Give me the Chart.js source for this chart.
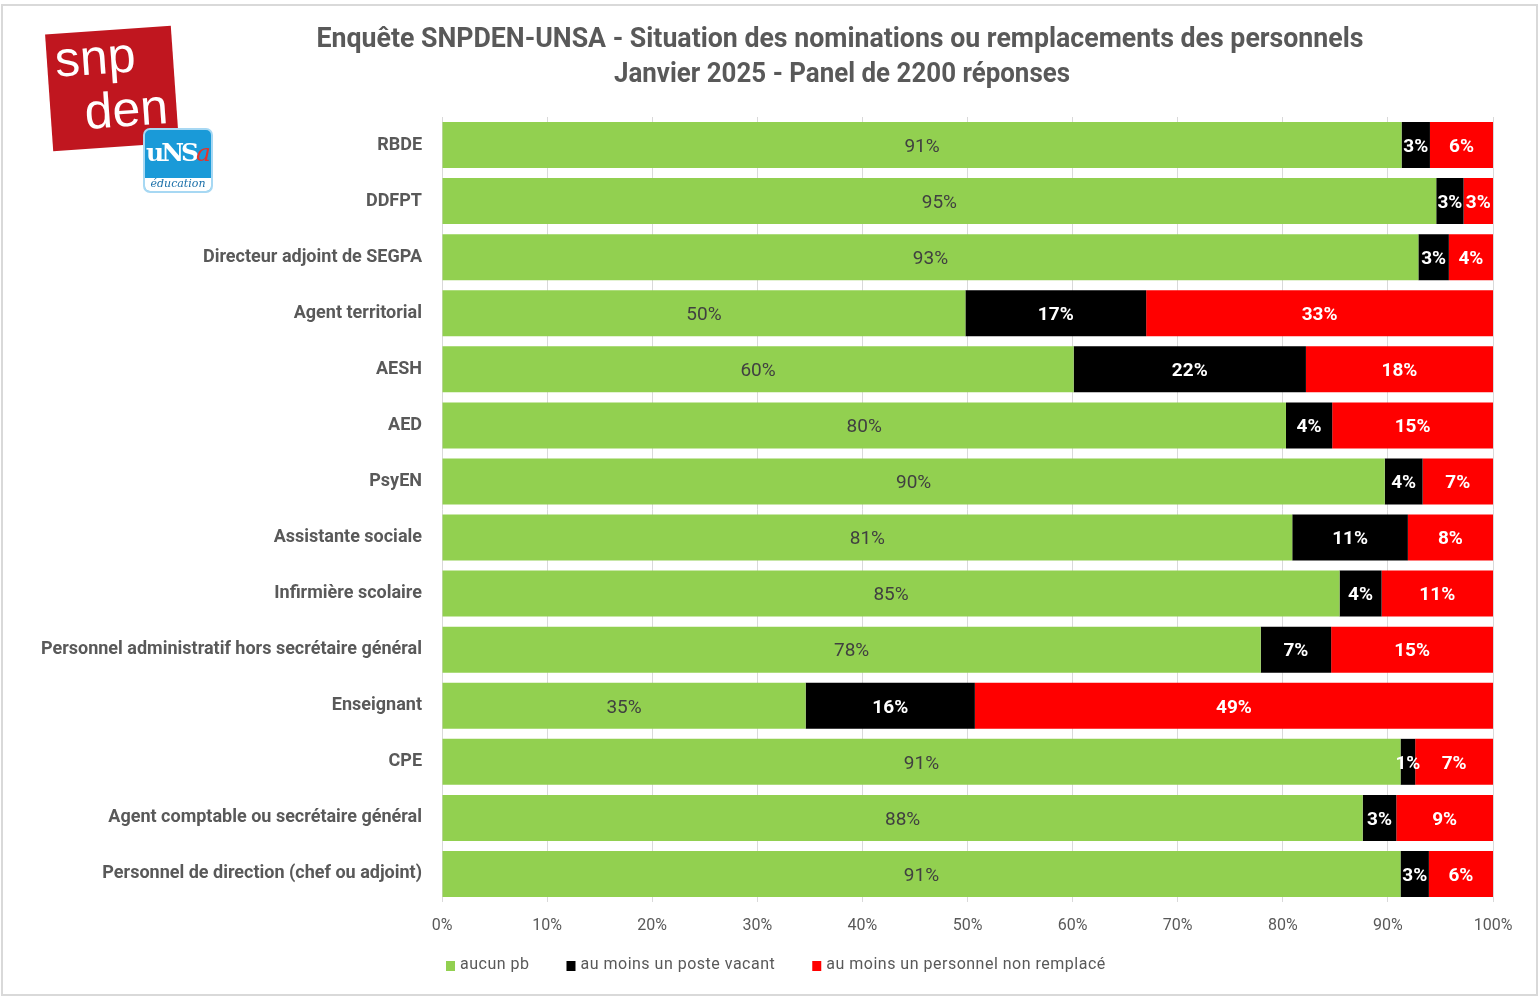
<!DOCTYPE html>
<html lang="fr">
<head>
  <meta charset="UTF-8">
  <title>Enquête SNPDEN-UNSA - Situation des nominations</title>
  <script src="https://cdn.jsdelivr.net/npm/chart.js"></script>
  <style>
    body {
      margin: 0;
      background: #fff;
      font-family: Roboto, "Liberation Sans", sans-serif;
    }

    #wrap {
      position: relative;
      width: 1540px;
      height: 998px;
    }

    #snpden {
      position: absolute;
      left: 49px;
      top: 30px;
      width: 126px;
      height: 117px;
      background: #c0161f;
      transform: rotate(-4deg);
      color: #fff;
      font-family: "Liberation Sans", Arial, sans-serif;
      font-size: 50px;
      line-height: 44px;
    }

    #snpden .l1 { position: absolute; left: 8px; top: 4px; }
    #snpden .l2 { position: absolute; left: 34px; top: 58px; }

    #unsa {
      position: absolute;
      left: 143px;
      top: 128px;
      width: 66px;
      height: 61px;
      border-radius: 7px;
      border: 2px solid #a7d8f3;
      background: #1a9ad8;
      overflow: hidden;
      font-family: "DejaVu Serif", serif;
    }

    #unsa .u {
      position: absolute;
      left: 1px;
      top: 8px;
      color: #fff;
      font-size: 25px;
      font-weight: bold;
      letter-spacing: -3px;
    }

    #unsa .a { color: #e5332a; font-style: italic; font-weight: normal; }

    #unsa .edu {
      position: absolute;
      left: 0;
      bottom: 0;
      width: 100%;
      height: 13px;
      background: #fff;
      color: #1a6fa8;
      font-size: 11px;
      font-style: italic;
      text-align: center;
      line-height: 12px;
    }
  </style>
</head>
<body>
  <div id="wrap">
    <canvas id="chart" width="1540" height="998"></canvas>
    <div id="snpden"><span class="l1">snp</span><span class="l2">den</span></div>
    <div id="unsa"><span class="u">uNS<span class="a">a</span></span><div class="edu">éducation</div></div>
  </div>

  <script>
    // Categories (top to bottom)
    const categories = [
      'RBDE',
      'DDFPT',
      'Directeur adjoint de SEGPA',
      'Agent territorial',
      'AESH',
      'AED',
      'PsyEN',
      'Assistante sociale',
      'Infirmière scolaire',
      'Personnel administratif hors secrétaire général',
      'Enseignant',
      'CPE',
      'Agent comptable ou secrétaire général',
      'Personnel de direction (chef ou adjoint)'
    ];

    // Series values, in % of answers
    const aucunPb = [91.3, 94.6, 92.9, 49.8, 60.1, 80.3, 89.7, 80.9, 85.4, 77.9, 34.6, 91.2, 87.6, 91.2];
    const posteVacant = [2.7, 2.6, 2.9, 17.2, 22.1, 4.4, 3.6, 11.0, 4.0, 6.7, 16.1, 1.4, 3.2, 2.7];
    const nonRemplace = [6.0, 2.8, 4.2, 33.0, 17.8, 15.3, 6.7, 8.1, 10.6, 15.4, 49.3, 7.4, 9.2, 6.1];

    const seriesNames = ['aucun pb', 'au moins un poste vacant', 'au moins un personnel non remplacé'];
    const xTicks = [0, 10, 20, 30, 40, 50, 60, 70, 80, 90, 100];

    const titleLines = [
      'Enquête SNPDEN-UNSA - Situation des nominations ou remplacements des personnels',
      'Janvier 2025 - Panel de 2200 réponses'
    ];

    const grey = '#595959';

    // Frame + title
    const framePlugin = {
      id: 'frame',
      beforeDraw(chart) {
        const c = chart.ctx;
        c.save();
        c.fillStyle = '#fff';
        c.fillRect(0, 0, chart.width, chart.height);
        c.strokeStyle = '#d9d9d9';
        c.lineWidth = 2;
        c.strokeRect(2, 5, 1535, 990);
        c.restore();
      },
      afterDraw(chart) {
        const c = chart.ctx;
        c.save();
        c.fillStyle = grey;
        c.textAlign = 'center';
        c.textBaseline = 'middle';
        c.font = 'bold 28px Roboto';
        c.fillText(titleLines[0], 840, 40, 1047);
        c.fillText(titleLines[1], 842, 75, 456);
        c.restore();
      }
    };

    // Percentage labels inside the bars
    const barLabels = {
      id: 'barLabels',
      afterDatasetsDraw(chart) {
        const c = chart.ctx;
        c.save();
        c.textAlign = 'center';
        c.textBaseline = 'middle';
        chart.data.datasets.forEach((ds, i) => {
          const meta = chart.getDatasetMeta(i);
          meta.data.forEach((bar, j) => {
            const txt = Math.round(ds.data[j]) + '%';
            if (i === 0) {
              c.font = '19px Roboto';
              c.fillStyle = '#404040';
            } else {
              c.font = 'bold 19px Roboto';
              c.fillStyle = '#fff';
            }
            c.fillText(txt, (bar.x + bar.base) / 2, bar.y + 2);
          });
        });
        c.restore();
      }
    };

    // Legend drawn under the axis
    const legendPlugin = {
      id: 'bottomLegend',
      afterDraw(chart) {
        const c = chart.ctx;
        c.save();
        c.font = '16px Roboto';
        c.textBaseline = 'middle';
        c.letterSpacing = '0.5px';
        let x = 446;
        const y = 965;
        chart.data.datasets.forEach(ds => {
          c.fillStyle = ds.backgroundColor;
          c.fillRect(x, y - 4, 9, 10);
          c.fillStyle = grey;
          c.fillText(ds.label, x + 14, y);
          x += 14 + c.measureText(ds.label).width + 37;
        });
        c.restore();
      }
    };

    new Chart(document.getElementById('chart'), {
      type: 'bar',
      data: {
        labels: categories,
        datasets: [
          { label: seriesNames[0], data: aucunPb, backgroundColor: '#92d050' },
          { label: seriesNames[1], data: posteVacant, backgroundColor: '#000000' },
          { label: seriesNames[2], data: nonRemplace, backgroundColor: '#ff0000' }
        ]
      },
      options: {
        indexAxis: 'y',
        responsive: false,
        animation: false,
        datasets: {
          bar: { barPercentage: 0.82, categoryPercentage: 1 }
        },
        layout: {
          padding: { top: 117, right: 47, left: 0, bottom: 0 }
        },
        plugins: {
          legend: { display: false },
          title: { display: false },
          tooltip: { enabled: false }
        },
        scales: {
          x: {
            stacked: true,
            min: 0,
            max: 100,
            afterBuildTicks: s => { s.ticks = xTicks.map(v => ({ value: v })); },
            afterFit: s => { s.height = 96; },
            ticks: {
              callback: v => v + '%',
              color: grey,
              font: { family: 'Roboto', size: 16 },
              padding: 14
            },
            grid: { color: '#d9d9d9', drawTicks: false },
            border: { display: false }
          },
          y: {
            stacked: true,
            afterFit: s => { s.width = 442; },
            ticks: {
              color: grey,
              font: { family: 'Roboto', size: 18, weight: 'bold' },
              padding: 20
            },
            grid: { display: false, drawTicks: false },
            border: { display: false }
          }
        }
      },
      plugins: [framePlugin, barLabels, legendPlugin]
    });
  </script>
</body>
</html>
